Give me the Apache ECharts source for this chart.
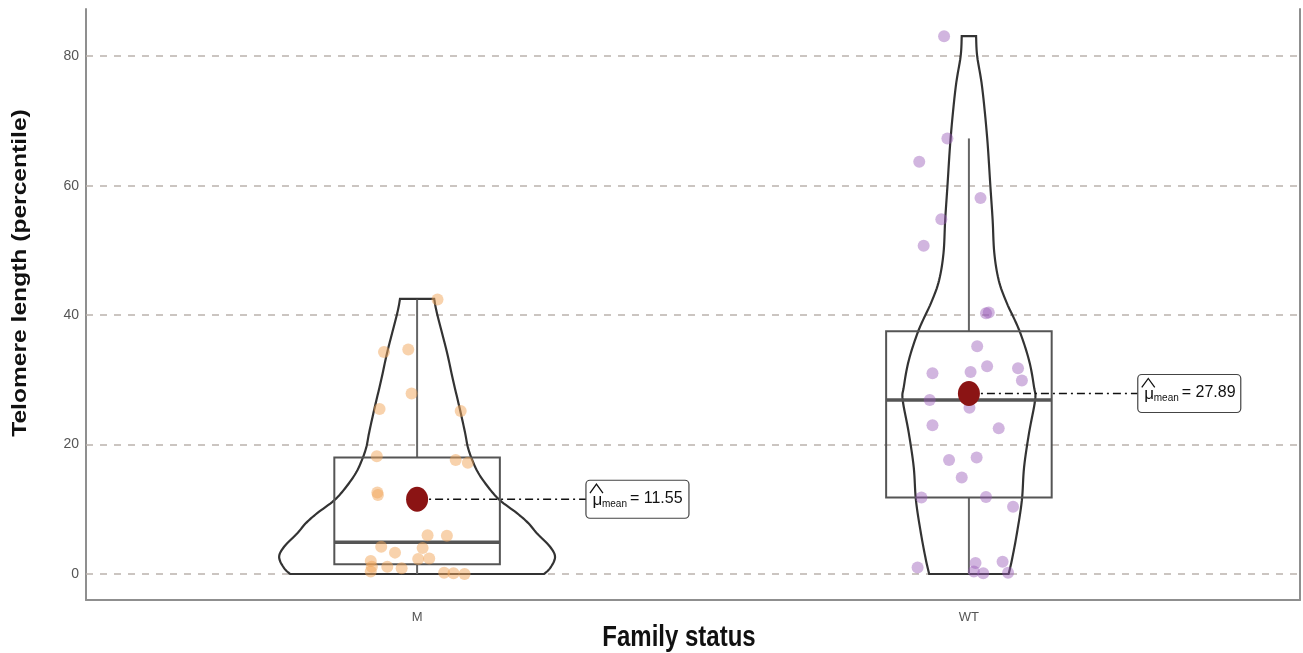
<!DOCTYPE html>
<html>
<head>
<meta charset="utf-8">
<script src="https://cdn.jsdelivr.net/npm/echarts@6/dist/echarts.min.js"></script>
<style>
html, body { margin: 0; padding: 0; background: #fff; }
#chart { width: 1303px; height: 653px; }
</style>
</head>
<body>
<div id="chart"></div>
<script>
// data
var categories = ['M', 'WT'];
var yTicks = [0, 20, 40, 60, 80];
var means = [11.55, 27.89];

// box stats : [lower whisker, Q1, median, Q3, upper whisker]
var boxM = [0, 1.5, 4.9, 18.0, 42.4];
var boxWT = [0, 11.8, 26.9, 37.5, 67.3];

// violin outline : [value, half width]
var violinM = [
    [42.5, 0.031], [40.3, 0.036], [34.3, 0.054], [30.0, 0.065], [25.3, 0.078],
    [21.8, 0.087], [19.6, 0.092], [17.6, 0.100], [15.6, 0.111], [13.4, 0.129],
    [11.4, 0.150], [9.4, 0.181], [7.9, 0.201], [6.3, 0.217], [4.2, 0.241],
    [2.6, 0.250], [0.9, 0.241], [0, 0.230]
];
var violinWT = [
    [83.1, 0.013], [80.0, 0.015], [75.2, 0.024], [67.5, 0.033], [59.8, 0.039],
    [54.7, 0.043], [49.6, 0.046], [45.4, 0.054], [42.0, 0.068], [37.7, 0.091],
    [33.0, 0.109], [28.9, 0.118], [26.9, 0.120], [21.8, 0.109], [16.5, 0.100],
    [11.4, 0.096], [6.3, 0.087], [2.2, 0.078], [0, 0.072]
];

// jittered points : [x, value]
var pointsM = [
    [1.037, 42.4], [0.940, 34.3], [0.984, 34.7], [0.990, 27.9], [0.932, 25.5],
    [1.079, 25.2], [0.927, 18.2], [1.070, 17.6], [1.092, 17.2], [0.928, 12.6],
    [0.929, 12.2], [1.019, 6.0], [1.054, 5.9], [0.935, 4.2], [0.960, 3.3],
    [1.010, 4.0], [1.002, 2.3], [1.022, 2.4], [0.916, 2.0], [0.916, 0.4],
    [0.918, 1.1], [0.946, 1.1], [0.972, 0.9], [1.049, 0.2], [1.066, 0.1],
    [1.086, 0.0]
];
var pointsWT = [
    [1.955, 83.1], [1.961, 67.3], [1.910, 63.7], [2.021, 58.1], [1.950, 54.8],
    [1.918, 50.7], [2.031, 40.3], [2.036, 40.4], [2.015, 35.2], [1.934, 31.0],
    [2.003, 31.2], [2.033, 32.1], [2.089, 31.8], [2.096, 29.9], [1.929, 26.9],
    [2.001, 25.7], [1.934, 23.0], [2.054, 22.5], [1.964, 17.6], [2.014, 18.0],
    [1.987, 14.9], [1.914, 11.8], [2.031, 11.9], [2.080, 10.4], [1.907, 1.0],
    [2.012, 1.7], [2.061, 1.9], [2.009, 0.4], [2.026, 0.1], [2.071, 0.2]
];

var chart = echarts.init(document.getElementById('chart'));
var FONT = '"Liberation Sans", Arial, sans-serif';

// catmull-rom through the outline points
function spline(pts, n) {
    var out = [];
    for (var i = 0; i < pts.length - 1; i++) {
        var p0 = pts[Math.max(i - 1, 0)], p1 = pts[i], p2 = pts[i + 1], p3 = pts[Math.min(i + 2, pts.length - 1)];
        for (var k = 0; k < n; k++) {
            var t = k / n, t2 = t * t, t3 = t2 * t;
            var pt = [0, 1].map(function (d) {
                return 0.5 * ((2 * p1[d]) + (-p0[d] + p2[d]) * t +
                    (2 * p0[d] - 5 * p1[d] + 4 * p2[d] - p3[d]) * t2 +
                    (-p0[d] + 3 * p1[d] - 3 * p2[d] + p3[d]) * t3);
            });
            out.push(pt);
        }
    }
    out.push(pts[pts.length - 1]);
    return out;
}

var violins = [violinM, violinWT];
var boxes = [boxM, boxWT];

function renderViolin(params, api) {
    var i = params.dataIndex;
    var c = i + 1;
    var prof = violins[i];
    var left = prof.map(function (p) { return api.coord([c - p[1], p[0]]); });
    var right = prof.map(function (p) { return api.coord([c + p[1], p[0]]); });
    var pts = spline(left, 8).concat(spline(right, 8).reverse());
    return {
        type: 'polygon',
        shape: { points: pts },
        style: { fill: 'rgba(255,255,255,0)', stroke: '#333333', lineWidth: 2.2 }
    };
}

function renderBox(params, api) {
    var i = params.dataIndex;
    var c = i + 1;
    var b = boxes[i];
    var hw = 0.15;
    var tl = api.coord([c - hw, b[3]]);
    var br = api.coord([c + hw, b[1]]);
    var ml = api.coord([c - hw, b[2]]);
    var mr = api.coord([c + hw, b[2]]);
    var wLo = api.coord([c, b[0]]);
    var q1 = api.coord([c, b[1]]);
    var q3 = api.coord([c, b[3]]);
    var wHi = api.coord([c, b[4]]);
    return {
        type: 'group',
        children: [
            { type: 'line', shape: { x1: wLo[0], y1: wLo[1], x2: q1[0], y2: q1[1] }, style: { stroke: '#666666', lineWidth: 2 } },
            { type: 'line', shape: { x1: q3[0], y1: q3[1], x2: wHi[0], y2: wHi[1] }, style: { stroke: '#666666', lineWidth: 2 } },
            { type: 'rect', shape: { x: tl[0], y: tl[1], width: br[0] - tl[0], height: br[1] - tl[1] }, style: { fill: 'rgba(255,255,255,0)', stroke: '#555555', lineWidth: 2 } },
            { type: 'line', shape: { x1: ml[0], y1: ml[1], x2: mr[0], y2: mr[1] }, style: { stroke: '#555555', lineWidth: 3.5 } }
        ]
    };
}

function renderMeanLabel(params, api) {
    var x = api.value(0), m = api.value(1);
    var p = api.coord([x, m]);
    var lx = api.coord([x + 0.306, m])[0];
    var y = p[1];
    return {
        type: 'group',
        children: [
            { type: 'line', shape: { x1: p[0], y1: y, x2: lx, y2: y }, style: { stroke: '#111111', lineWidth: 1.5, lineDash: [8, 4, 2, 4] } },
            { type: 'rect', shape: { x: lx, y: y - 19, width: 103, height: 38, r: 4 }, style: { fill: '#ffffff', stroke: '#444444', lineWidth: 1.2 } },
            { type: 'polyline', shape: { points: [[lx + 4, y - 6], [lx + 10.5, y - 15], [lx + 17, y - 6]] }, style: { stroke: '#111111', lineWidth: 1.3, fill: null } },
            { type: 'text', x: lx + 6.5, y: y + 1, style: { text: 'μ', font: '17px ' + FONT, fill: '#111', verticalAlign: 'middle' } },
            { type: 'text', x: lx + 16, y: y + 5, style: { text: 'mean', font: '10px ' + FONT, fill: '#111', verticalAlign: 'middle' } },
            { type: 'text', x: lx + 44, y: y - 1, style: { text: '= ' + m.toFixed(2), font: '16px ' + FONT, fill: '#111', verticalAlign: 'middle' } }
        ]
    };
}

option = {
    backgroundColor: '#ffffff',
    animation: false,
    grid: { left: 86, right: 3, top: 9, bottom: 53 },
    xAxis: {
        type: 'value', min: 0.4, max: 2.6,
        axisLine: { show: true, onZero: false, lineStyle: { color: '#8f8f8f', width: 2 } },
        axisTick: { show: false },
        splitLine: { show: false },
        axisLabel: {
            customValues: [1, 2],
            formatter: function (v) { return categories[Math.round(v) - 1]; },
            color: '#555555', fontFamily: FONT, fontSize: 13, margin: 11
        }
    },
    yAxis: [{
        type: 'value', min: -4.02, max: 87.3,
        axisLine: { show: true, lineStyle: { color: '#8f8f8f', width: 2 } },
        axisTick: { show: false },
        splitLine: { show: false },
        axisLabel: { customValues: yTicks, color: '#555555', fontFamily: FONT, fontSize: 14, margin: 7 }
    }, {
        type: 'value', min: -4.02, max: 87.3, position: 'right',
        axisLine: { show: true, lineStyle: { color: '#8f8f8f', width: 2 } },
        axisTick: { show: false }, axisLabel: { show: false }, splitLine: { show: false }
    }],
    graphic: [{
        type: 'text', x: 20, y: 273, rotation: Math.PI / 2, scaleX: 1.23,
        style: { text: 'Telomere length (percentile)', font: 'bold 20px ' + FONT, fill: '#111', align: 'center', verticalAlign: 'middle' }
    }, {
        type: 'text', x: 679, y: 638, scaleY: 1.2,
        style: { text: 'Family status', font: 'bold 24px ' + FONT, fill: '#111', align: 'center', verticalAlign: 'middle' }
    }],
    series: [{
        type: 'line', name: 'grid', z: 1,
        data: [],
        markLine: {
            z: 1,
            silent: true, symbol: 'none', label: { show: false },
            lineStyle: { color: '#bbb3ad', width: 1.5, type: [7, 7] },
            data: yTicks.map(function (t) { return { yAxis: t }; })
        }
    }, {
        type: 'custom', name: 'violin', z: 2,
        renderItem: renderViolin,
        data: [[1], [2]]
    }, {
        type: 'custom', name: 'box', z: 3,
        renderItem: renderBox,
        data: [[1], [2]]
    }, {
        type: 'scatter', name: 'M', z: 4,
        symbolSize: 12,
        itemStyle: { color: '#f2a65a', opacity: 0.5 },
        data: pointsM
    }, {
        type: 'scatter', name: 'WT', z: 4,
        symbolSize: 12,
        itemStyle: { color: '#9a5cb8', opacity: 0.45 },
        data: pointsWT
    }, {
        type: 'custom', name: 'meanLabel', z: 5,
        renderItem: renderMeanLabel,
        data: [[1, means[0]], [2, means[1]]]
    }, {
        type: 'scatter', name: 'mean', z: 6,
        symbolSize: [22, 25],
        itemStyle: { color: '#8b1414', opacity: 1 },
        data: [[1, means[0]], [2, means[1]]]
    }]
};
chart.setOption(option);

window.addEventListener('resize', function () {
    chart.resize()
})
</script>
</body>
</html>
